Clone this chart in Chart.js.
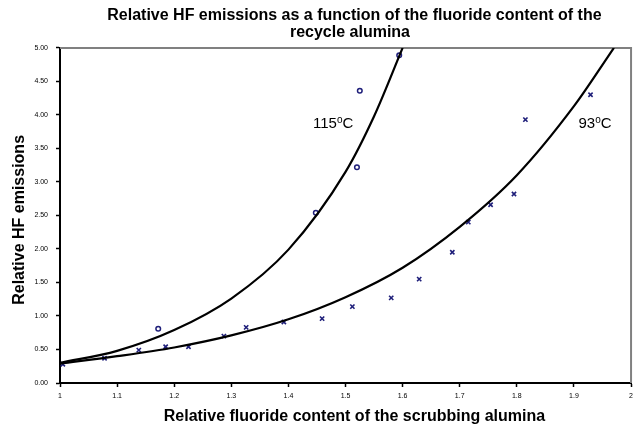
<!DOCTYPE html>
<html>
<head>
<meta charset="utf-8">
<script src="https://cdn.jsdelivr.net/npm/chart.js@4"></script>
<style>
html, body { margin: 0; padding: 0; background: #fff; }
#wrap { width: 638px; height: 428px; }
</style>
</head>
<body>
<div id="wrap"><canvas id="hfChart"></canvas></div>
<script>
// measured points, 115 C (circles)
const x115 = [1.172, 1.448, 1.520, 1.525, 1.594];
const y115 = [0.81, 2.54, 3.22, 4.36, 4.89];

// measured points, 93 C (crosses)
const x93 = [1.005, 1.078, 1.138, 1.185, 1.225, 1.287, 1.326, 1.392, 1.459, 1.512, 1.580, 1.629, 1.687, 1.715, 1.754, 1.795, 1.815, 1.929];
const y93 = [0.28, 0.37, 0.49, 0.54, 0.54, 0.70, 0.83, 0.91, 0.96, 1.14, 1.27, 1.55, 1.95, 2.40, 2.66, 2.82, 3.93, 4.30];

// trend curves
const trendX115 = [1.0, 1.1, 1.2, 1.3, 1.4, 1.5, 1.55, 1.6];
const trendY115 = [0.30, 0.48, 0.79, 1.26, 1.99, 3.15, 3.98, 5.0];
const trendX93 = [1.0, 1.1, 1.2, 1.3, 1.4, 1.5, 1.6, 1.7, 1.8, 1.9, 1.97];
const trendY93 = [0.29, 0.40, 0.53, 0.71, 0.95, 1.28, 1.72, 2.33, 3.10, 4.13, 5.0];

const xTicks = [1, 1.1, 1.2, 1.3, 1.4, 1.5, 1.6, 1.7, 1.8, 1.9, 2];
const yTicks = [0, 0.5, 1, 1.5, 2, 2.5, 3, 3.5, 4, 4.5, 5];

// leading / trailing spaces nudge the centred titles like the original
const chartTitle = ['    Relative HF emissions as a function of the fluoride content of the', '  recycle alumina'];
const xTitle = '    Relative fluoride content of the scrubbing alumina';
const yTitle = 'Relative HF emissions  ';
const curveLabels = [
    { x: 1.443, y: 3.81, deg: '115' },
    { x: 1.908, y: 3.81, deg: '93' }
];

const toPts = (xs, ys) => xs.map((x, i) => ({ x: x, y: ys[i] }));
const navy = '#1f1f7a';
const police = "'Liberation Sans', Arial, sans-serif";

// gray frame on top and right
const cadre = {
    id: 'cadre',
    beforeDatasetsDraw(chart) {
        const { ctx, chartArea: a } = chart;
        ctx.save();
        ctx.strokeStyle = '#808080';
        ctx.lineWidth = 2;
        ctx.beginPath();
        ctx.moveTo(a.left, a.top);
        ctx.lineTo(a.right, a.top);
        ctx.lineTo(a.right, a.bottom);
        ctx.stroke();
        ctx.restore();
    }
};

// "115oC" / "93oC" labels with raised o
const etiquettes = {
    id: 'etiquettes',
    afterDraw(chart) {
        const { ctx, scales } = chart;
        ctx.save();
        ctx.fillStyle = '#000';
        ctx.textBaseline = 'alphabetic';
        curveLabels.forEach(l => {
            let px = scales.x.getPixelForValue(l.x);
            const py = scales.y.getPixelForValue(l.y);
            ctx.font = '15px ' + police;
            ctx.fillText(l.deg, px, py);
            px += ctx.measureText(l.deg).width;
            ctx.font = '10px ' + police;
            ctx.fillText('o', px, py - 5);
            px += ctx.measureText('o').width;
            ctx.font = '15px ' + police;
            ctx.fillText('C', px, py);
        });
        ctx.restore();
    }
};

const ctx = document.getElementById('hfChart').getContext('2d');
new Chart(ctx, {
    type: 'scatter',
    data: {
        datasets: [
            {
                label: '115 trend',
                data: toPts(trendX115, trendY115),
                showLine: true,
                borderColor: '#000',
                borderWidth: 2.2,
                pointRadius: 0,
                cubicInterpolationMode: 'monotone'
            },
            {
                label: '93 trend',
                data: toPts(trendX93, trendY93),
                showLine: true,
                borderColor: '#000',
                borderWidth: 2.2,
                pointRadius: 0,
                cubicInterpolationMode: 'monotone'
            },
            {
                label: '115C',
                data: toPts(x115, y115),
                pointStyle: 'circle',
                pointRadius: 2.3,
                borderWidth: 1.5,
                borderColor: navy,
                backgroundColor: '#fff'
            },
            {
                label: '93C',
                data: toPts(x93, y93),
                pointStyle: 'crossRot',
                pointRadius: 3,
                borderWidth: 1.6,
                borderColor: navy,
                backgroundColor: navy
            }
        ]
    },
    options: {
        responsive: true,
        maintainAspectRatio: false,
        animation: false,
        layout: { padding: { left: 0, right: 5, top: 0, bottom: 0 } },
        plugins: {
            legend: { display: false },
            tooltip: { enabled: false },
            title: {
                display: true,
                fullSize: false,
                text: chartTitle,
                color: '#000',
                font: { family: police, size: 16, weight: 'bold', lineHeight: 1.09 },
                padding: { top: 6.75, bottom: 6.25 }
            }
        },
        scales: {
            x: {
                type: 'linear',
                min: 1,
                max: 2,
                afterFit: s => { s.height = 45; },
                afterBuildTicks: s => { s.ticks = xTicks.map(v => ({ value: v })); },
                ticks: {
                    color: '#000',
                    font: { family: police, size: 7 },
                    padding: 5,
                    maxRotation: 0,
                    callback: v => String(Math.round(v * 10) / 10)
                },
                grid: { drawOnChartArea: false, drawTicks: true, tickLength: 4, tickColor: '#000', tickWidth: 1.5 },
                border: { color: '#000', width: 2 },
                title: {
                    display: true,
                    text: xTitle,
                    color: '#000',
                    font: { family: police, size: 16, weight: 'bold' },
                    padding: { top: 0, bottom: 1.4 }
                }
            },
            y: {
                min: 0,
                max: 5,
                afterFit: s => { s.width = 60; },
                afterBuildTicks: s => { s.ticks = yTicks.map(v => ({ value: v })); },
                ticks: {
                    color: '#000',
                    font: { family: police, size: 7 },
                    padding: 8,
                    callback: v => v.toFixed(2)
                },
                grid: { drawOnChartArea: false, drawTicks: true, tickLength: 4, tickColor: '#000', tickWidth: 1.5 },
                border: { color: '#000', width: 2 },
                title: {
                    display: true,
                    text: yTitle,
                    color: '#000',
                    font: { family: police, size: 16, weight: 'bold' },
                    padding: { top: 10, bottom: 0 }
                }
            }
        }
    },
    plugins: [cadre, etiquettes]
});
</script>
</body>
</html>
